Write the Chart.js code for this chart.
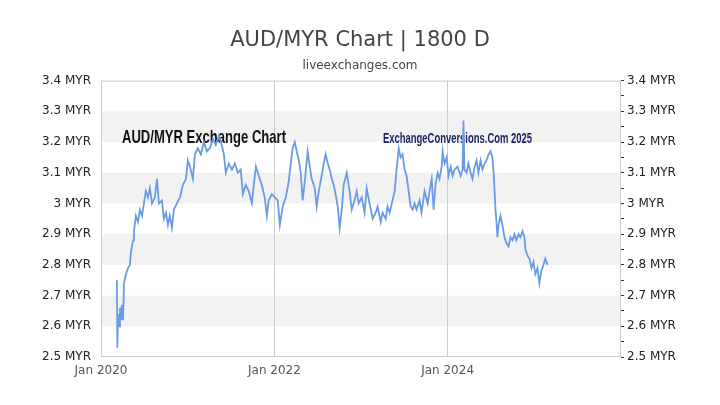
<!DOCTYPE html>
<html>
<head>
<meta charset="utf-8">
<title>AUD/MYR Chart</title>
<script src="https://cdn.jsdelivr.net/npm/chart.js@4.4.1/dist/chart.umd.min.js"></script>
<style>
    body { margin: 0; background: #fff; }
    #wrap { width: 720px; height: 405px; }
</style>
</head>
<body>
<div id="wrap"><canvas id="Chart" width="720" height="405"></canvas></div>
<script>
// values (AUD -> MYR)
const dates = [
    '2020-03-08', '2020-03-10', '2020-03-13', '2020-03-17', '2020-03-21', '2020-03-25', '2020-03-29', '2020-04-03',
    '2020-04-07', '2020-04-15', '2020-04-24', '2020-05-02', '2020-05-06', '2020-05-15', '2020-05-19', '2020-05-27',
    '2020-06-05', '2020-06-13', '2020-06-22', '2020-06-30', '2020-07-08', '2020-07-17', '2020-07-25', '2020-08-03',
    '2020-08-15', '2020-08-24', '2020-09-01', '2020-09-14', '2020-09-22', '2020-10-01', '2020-10-09', '2020-10-17',
    '2020-10-26', '2020-11-03', '2020-11-16', '2020-11-29', '2020-12-11', '2020-12-24', '2021-01-01', '2021-01-10',
    '2021-01-22', '2021-01-31', '2021-02-12', '2021-02-25', '2021-03-10', '2021-03-22', '2021-04-04', '2021-04-17',
    '2021-04-29', '2021-05-12', '2021-05-24', '2021-06-02', '2021-06-10', '2021-06-23', '2021-07-06', '2021-07-18',
    '2021-07-31', '2021-08-12', '2021-08-21', '2021-09-02', '2021-09-15', '2021-09-28', '2021-10-06', '2021-10-15',
    '2021-10-27', '2021-11-09', '2021-11-21', '2021-11-30', '2021-12-08', '2021-12-21', '2022-01-03', '2022-01-15',
    '2022-01-24', '2022-02-05', '2022-02-18', '2022-03-02', '2022-03-11', '2022-03-19', '2022-03-28', '2022-04-05',
    '2022-04-14', '2022-04-22', '2022-04-30', '2022-05-09', '2022-05-21', '2022-05-30', '2022-06-07', '2022-06-20',
    '2022-06-28', '2022-07-07', '2022-07-19', '2022-07-28', '2022-08-05', '2022-08-14', '2022-08-22', '2022-08-31',
    '2022-09-08', '2022-09-16', '2022-09-25', '2022-10-03', '2022-10-12', '2022-10-20', '2022-11-02', '2022-11-14',
    '2022-11-23', '2022-12-05', '2022-12-14', '2022-12-22', '2023-01-04', '2023-01-16', '2023-01-25', '2023-02-06',
    '2023-02-19', '2023-03-04', '2023-03-12', '2023-03-25', '2023-04-02', '2023-04-15', '2023-04-23', '2023-05-02',
    '2023-05-14', '2023-05-23', '2023-05-31', '2023-06-09', '2023-06-17', '2023-06-25', '2023-07-04', '2023-07-12',
    '2023-07-21', '2023-07-29', '2023-08-07', '2023-08-15', '2023-08-23', '2023-09-05', '2023-09-13', '2023-09-26',
    '2023-10-09', '2023-10-17', '2023-10-26', '2023-11-03', '2023-11-11', '2023-11-20', '2023-11-28', '2023-12-07',
    '2023-12-11', '2023-12-19', '2023-12-28', '2024-01-05', '2024-01-14', '2024-01-22', '2024-01-30', '2024-02-12',
    '2024-02-25', '2024-03-04', '2024-03-08', '2024-03-12', '2024-03-21', '2024-03-29', '2024-04-07', '2024-04-15',
    '2024-04-24', '2024-05-02', '2024-05-10', '2024-05-19', '2024-05-27', '2024-06-05', '2024-06-13', '2024-06-22',
    '2024-06-30', '2024-07-08', '2024-07-13', '2024-07-17', '2024-07-21', '2024-07-25', '2024-07-29', '2024-08-03',
    '2024-08-11', '2024-08-19', '2024-08-28', '2024-09-05', '2024-09-14', '2024-09-22', '2024-10-01', '2024-10-09',
    '2024-10-17', '2024-10-26', '2024-11-03', '2024-11-12', '2024-11-20', '2024-11-24', '2024-12-03', '2024-12-11',
    '2024-12-20', '2024-12-28', '2025-01-05', '2025-01-14', '2025-01-22', '2025-01-30', '2025-02-08', '2025-02-16',
    '2025-02-25'
];
const rates = [
    2.75, 2.53, 2.64, 2.60, 2.66, 2.62, 2.67, 2.62,
    2.74, 2.77, 2.79, 2.80, 2.84, 2.88, 2.91, 2.96,
    2.94, 2.98, 2.96, 3.00, 3.04, 3.02, 3.05, 3.00,
    3.02, 3.08, 3.00, 3.01, 2.95, 2.97, 2.93, 2.96,
    2.92, 2.98, 3.00, 3.02, 3.06, 3.08, 3.14, 3.12,
    3.08, 3.16, 3.18, 3.16, 3.20, 3.17, 3.18, 3.21,
    3.19, 3.22, 3.19, 3.16, 3.10, 3.13, 3.11, 3.13,
    3.10, 3.11, 3.03, 3.06, 3.04, 3.00, 3.06, 3.12,
    3.09, 3.06, 3.02, 2.96, 3.01, 3.03, 3.02, 3.01,
    2.93, 2.99, 3.02, 3.07, 3.13, 3.18, 3.20, 3.17,
    3.14, 3.10, 3.01, 3.07, 3.17, 3.12, 3.08, 3.05,
    2.99, 3.04, 3.09, 3.13, 3.16, 3.13, 3.11, 3.08,
    3.06, 3.03, 2.99, 2.92, 2.98, 3.06, 3.10, 3.04,
    2.98, 3.01, 3.04, 3.00, 3.02, 2.97, 3.05, 3.00,
    2.95, 2.97, 2.99, 2.94, 2.97, 2.95, 2.99, 2.97,
    3.01, 3.04, 3.11, 3.18, 3.15, 3.16, 3.11, 3.09,
    3.04, 2.99, 2.98, 3.00, 2.98, 3.01, 2.97, 3.04,
    3.00, 3.04, 3.08, 2.98, 3.06, 3.10, 3.08, 3.12,
    3.17, 3.13, 3.15, 3.09, 3.12, 3.09, 3.11, 3.12,
    3.09, 3.11, 3.27, 3.11, 3.10, 3.13, 3.10, 3.08,
    3.12, 3.14, 3.10, 3.14, 3.11, 3.13, 3.14, 3.16,
    3.17, 3.15, 3.10, 3.04, 2.98, 2.94, 2.89, 2.93,
    2.96, 2.93, 2.89, 2.87, 2.86, 2.89, 2.88, 2.90,
    2.88, 2.90, 2.89, 2.91, 2.89, 2.85, 2.83, 2.82,
    2.79, 2.81, 2.77, 2.79, 2.74, 2.78, 2.80, 2.82,
    2.80
];

const xTickDates = ['2020-01-01', '2022-01-01', '2024-01-01'];
const xTickLabels = ['Jan 2020', 'Jan 2022', 'Jan 2024'];
const xRange = ['2020-01-01', '2026-01-01'];

const titleText = 'AUD/MYR Chart | 1800 D';
const subtitleText = 'liveexchanges.com';

// x axis runs in days from the first of Jan 2020
const origin = Date.parse(xRange[0]);
function dayOf(s) {
    return Math.round((Date.parse(s) - origin) / 86400000);
}

let points = [];
for (let i in dates) {
    points.push({ x: dayOf(dates[i]), y: rates[i] });
}
const tickDays = xTickDates.map(dayOf);

function fmtRate(v) {
    return parseFloat(v.toFixed(2)) + ' MYR';
}

// grey bands + frame + the two watermark texts
const decorations = {
    id: 'decorations',
    beforeDraw(chart) {
        const ctx = chart.ctx;
        const a = chart.chartArea;
        const y = chart.scales.y;
        ctx.save();
        ctx.fillStyle = '#fff';
        ctx.fillRect(0, 0, chart.width, chart.height);
        ctx.fillStyle = '#f2f2f2';
        [2.6, 2.8, 3.0, 3.2].forEach(function(b) {
            const top = y.getPixelForValue(b + 0.1);
            const bot = y.getPixelForValue(b);
            ctx.fillRect(a.left, top, a.right - a.left, bot - top);
        });
        ctx.restore();
    },
    beforeDatasetsDraw(chart) {
        const ctx = chart.ctx;
        const a = chart.chartArea;
        ctx.save();
        ctx.strokeStyle = '#cccccc';
        ctx.lineWidth = 1;
        ctx.strokeRect(a.left + 0.5, a.top + 0.5, a.right - a.left - 1, a.bottom - a.top - 1);

        stretchText(ctx, 'AUD/MYR Exchange Chart', 'bold 19px "Liberation Sans"', '#111', 122, 143, 164);
        stretchText(ctx, 'ExchangeConversions.Com 2025', 'bold 15px "Liberation Sans"', '#1c1c66', 383, 143, 149);
        ctx.restore();
    }
};

function stretchText(ctx, txt, font, color, x, baseline, width) {
    ctx.save();
    ctx.font = font;
    ctx.fillStyle = color;
    ctx.textBaseline = 'alphabetic';
    ctx.textAlign = 'left';
    const w = ctx.measureText(txt).width;
    ctx.translate(x, baseline);
    ctx.scale(width / w, 1);
    ctx.fillText(txt, 0, 0);
    ctx.restore();
}

Chart.defaults.font.family = '"DejaVu Sans", sans-serif';

let graphTarget = document.getElementById('Chart');
let lineGraph = new Chart(graphTarget, {
    type: 'line',
    data: {
        datasets: [{
            label: 'AUD/MYR',
            data: points,
            borderColor: '#6b9be6',
            borderWidth: 1.8,
            pointRadius: 0,
            tension: 0,
            fill: false
        }]
    },
    options: {
        responsive: false,
        animation: false,
        layout: { padding: { left: 0, right: 0, top: 0, bottom: 0 } },
        plugins: {
            legend: { display: false },
            tooltip: { enabled: false },
            title: {
                display: true,
                text: titleText,
                color: '#444',
                font: { size: 21, weight: 'normal' },
                padding: { top: 28, bottom: 5 }
            },
            subtitle: {
                display: true,
                text: subtitleText,
                color: '#444',
                font: { size: 12 },
                padding: { top: 0, bottom: 8 }
            }
        },
        scales: {
            x: {
                type: 'linear',
                min: 0,
                max: dayOf(xRange[1]),
                afterBuildTicks: function(scale) {
                    scale.ticks = tickDays.map(function(v) { return { value: v }; });
                },
                afterFit: function(scale) { scale.height = 48; },
                ticks: {
                    autoSkip: false,
                    maxRotation: 0,
                    color: '#555',
                    font: { size: 12 },
                    padding: 7,
                    callback: function(v) {
                        const i = tickDays.indexOf(v);
                        return i >= 0 ? xTickLabels[i] : '';
                    }
                },
                grid: { color: '#cccccc', drawTicks: false },
                border: { display: false }
            },
            y: {
                position: 'left',
                min: 2.5,
                max: 3.4,
                afterFit: function(scale) { scale.width = 101; },
                ticks: {
                    stepSize: 0.1,
                    color: '#222',
                    font: { size: 12 },
                    padding: 10,
                    callback: fmtRate
                },
                grid: { display: false, drawTicks: false },
                border: { display: false }
            },
            y2: {
                position: 'right',
                min: 2.5,
                max: 3.4,
                afterFit: function(scale) { scale.width = 99; },
                ticks: {
                    stepSize: 0.05,
                    color: '#222',
                    font: { size: 12 },
                    padding: 3,
                    autoSkip: false,
                    callback: function(v) {
                        return Math.round(v * 100) % 10 === 0 ? fmtRate(v) : '';
                    }
                },
                grid: { drawOnChartArea: false, drawTicks: true, tickLength: 3, tickColor: '#333' },
                border: { display: false }
            }
        }
    },
    plugins: [decorations]
});
</script>
</body>
</html>
